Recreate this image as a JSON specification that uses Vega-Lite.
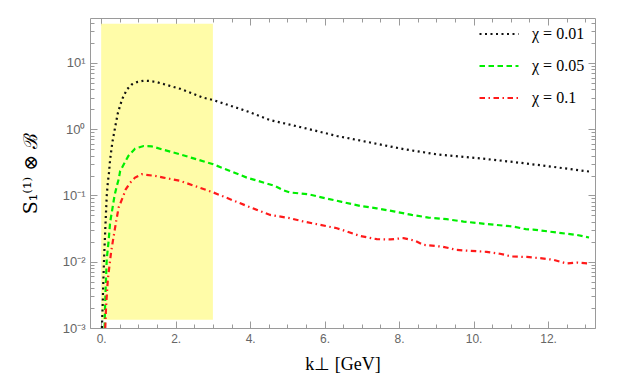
{
  "$schema": "https://vega.github.io/schema/vega-lite/v6.json",
  "width": 505,
  "height": 310,
  "autosize": "none",
  "padding": {"left": 90, "top": 18, "right": 28, "bottom": 57},
  "background": "white",
  "config": {
    "view": {"stroke": "#9a9a9a", "strokeWidth": 1},
    "axis": {"grid": false, "domain": false, "tickColor": "#9a9a9a", "labelColor": "#666666", "labelFont": "Liberation Sans", "labelFontSize": 12, "zindex": 1, "tickWidth": 1}
  },
  "datasets": {
    "band": [{"x0": 0, "x1": 3, "y0": 0.00133, "y1": 39}],
    "curves": [
      {"series": "χ = 0.01", "k": 0.02, "v": 0.001},
      {"series": "χ = 0.01", "k": 0.04, "v": 0.0022},
      {"series": "χ = 0.01", "k": 0.06, "v": 0.0055},
      {"series": "χ = 0.01", "k": 0.08, "v": 0.012},
      {"series": "χ = 0.01", "k": 0.11, "v": 0.031},
      {"series": "χ = 0.01", "k": 0.15, "v": 0.1},
      {"series": "χ = 0.01", "k": 0.18, "v": 0.16},
      {"series": "χ = 0.01", "k": 0.21, "v": 0.22},
      {"series": "χ = 0.01", "k": 0.24, "v": 0.35},
      {"series": "χ = 0.01", "k": 0.30, "v": 0.63},
      {"series": "χ = 0.01", "k": 0.38, "v": 1.11},
      {"series": "χ = 0.01", "k": 0.45, "v": 1.77},
      {"series": "χ = 0.01", "k": 0.56, "v": 2.81},
      {"series": "χ = 0.01", "k": 0.69, "v": 3.98},
      {"series": "χ = 0.01", "k": 0.82, "v": 4.73},
      {"series": "χ = 0.01", "k": 0.96, "v": 5.13},
      {"series": "χ = 0.01", "k": 1.15, "v": 5.4},
      {"series": "χ = 0.01", "k": 1.3, "v": 5.35},
      {"series": "χ = 0.01", "k": 1.49, "v": 5.13},
      {"series": "χ = 0.01", "k": 2.12, "v": 4.07},
      {"series": "χ = 0.01", "k": 2.75, "v": 2.98},
      {"series": "χ = 0.01", "k": 3.02, "v": 2.74},
      {"series": "χ = 0.01", "k": 3.91, "v": 1.87},
      {"series": "χ = 0.01", "k": 4.54, "v": 1.37},
      {"series": "χ = 0.01", "k": 5.43, "v": 1.05},
      {"series": "χ = 0.01", "k": 6.33, "v": 0.79},
      {"series": "χ = 0.01", "k": 7.22, "v": 0.63},
      {"series": "χ = 0.01", "k": 8.12, "v": 0.50},
      {"series": "χ = 0.01", "k": 9.01, "v": 0.417},
      {"series": "χ = 0.01", "k": 10.17, "v": 0.363},
      {"series": "χ = 0.01", "k": 11.07, "v": 0.32},
      {"series": "χ = 0.01", "k": 11.96, "v": 0.278},
      {"series": "χ = 0.01", "k": 12.99, "v": 0.234},
      {"series": "χ = 0.01", "k": 13.1, "v": 0.23},
      {"series": "χ = 0.05", "k": 0.09, "v": 0.001},
      {"series": "χ = 0.05", "k": 0.11, "v": 0.0027},
      {"series": "χ = 0.05", "k": 0.13, "v": 0.0055},
      {"series": "χ = 0.05", "k": 0.15, "v": 0.011},
      {"series": "χ = 0.05", "k": 0.2, "v": 0.0207},
      {"series": "χ = 0.05", "k": 0.24, "v": 0.039},
      {"series": "χ = 0.05", "k": 0.36, "v": 0.1},
      {"series": "χ = 0.05", "k": 0.42, "v": 0.139},
      {"series": "χ = 0.05", "k": 0.47, "v": 0.175},
      {"series": "χ = 0.05", "k": 0.51, "v": 0.234},
      {"series": "χ = 0.05", "k": 0.73, "v": 0.394},
      {"series": "χ = 0.05", "k": 0.91, "v": 0.508},
      {"series": "χ = 0.05", "k": 1.14, "v": 0.557},
      {"series": "χ = 0.05", "k": 1.36, "v": 0.55},
      {"series": "χ = 0.05", "k": 1.63, "v": 0.497},
      {"series": "χ = 0.05", "k": 2.12, "v": 0.417},
      {"series": "χ = 0.05", "k": 3.01, "v": 0.295},
      {"series": "χ = 0.05", "k": 3.91, "v": 0.186},
      {"series": "χ = 0.05", "k": 4.67, "v": 0.139},
      {"series": "χ = 0.05", "k": 4.89, "v": 0.12},
      {"series": "χ = 0.05", "k": 5.07, "v": 0.111},
      {"series": "χ = 0.05", "k": 5.57, "v": 0.104},
      {"series": "χ = 0.05", "k": 6.01, "v": 0.091},
      {"series": "χ = 0.05", "k": 6.46, "v": 0.080},
      {"series": "χ = 0.05", "k": 6.95, "v": 0.0695},
      {"series": "χ = 0.05", "k": 7.40, "v": 0.064},
      {"series": "χ = 0.05", "k": 7.89, "v": 0.057},
      {"series": "χ = 0.05", "k": 8.34, "v": 0.0508},
      {"series": "χ = 0.05", "k": 8.79, "v": 0.0464},
      {"series": "χ = 0.05", "k": 9.28, "v": 0.0438},
      {"series": "χ = 0.05", "k": 9.73, "v": 0.0404},
      {"series": "χ = 0.05", "k": 10.36, "v": 0.037},
      {"series": "χ = 0.05", "k": 11.07, "v": 0.034},
      {"series": "χ = 0.05", "k": 11.4, "v": 0.031},
      {"series": "χ = 0.05", "k": 11.6, "v": 0.0306},
      {"series": "χ = 0.05", "k": 12.23, "v": 0.0276},
      {"series": "χ = 0.05", "k": 12.77, "v": 0.0254},
      {"series": "χ = 0.05", "k": 13.1, "v": 0.0232},
      {"series": "χ = 0.1", "k": 0.11, "v": 0.001},
      {"series": "χ = 0.1", "k": 0.13, "v": 0.002},
      {"series": "χ = 0.1", "k": 0.18, "v": 0.0055},
      {"series": "χ = 0.1", "k": 0.27, "v": 0.0145},
      {"series": "χ = 0.1", "k": 0.40, "v": 0.040},
      {"series": "χ = 0.1", "k": 0.47, "v": 0.066},
      {"series": "χ = 0.1", "k": 0.6, "v": 0.10},
      {"series": "χ = 0.1", "k": 0.66, "v": 0.124},
      {"series": "χ = 0.1", "k": 0.78, "v": 0.156},
      {"series": "χ = 0.1", "k": 0.91, "v": 0.186},
      {"series": "χ = 0.1", "k": 1.09, "v": 0.209},
      {"series": "χ = 0.1", "k": 1.45, "v": 0.197},
      {"series": "χ = 0.1", "k": 1.67, "v": 0.186},
      {"series": "χ = 0.1", "k": 2.12, "v": 0.166},
      {"series": "χ = 0.1", "k": 3.01, "v": 0.111},
      {"series": "χ = 0.1", "k": 3.91, "v": 0.0695},
      {"series": "χ = 0.1", "k": 4.54, "v": 0.0508},
      {"series": "χ = 0.1", "k": 4.72, "v": 0.049},
      {"series": "χ = 0.1", "k": 5.07, "v": 0.0454},
      {"series": "χ = 0.1", "k": 5.43, "v": 0.0404},
      {"series": "χ = 0.1", "k": 5.88, "v": 0.036},
      {"series": "χ = 0.1", "k": 6.33, "v": 0.032},
      {"series": "χ = 0.1", "k": 6.60, "v": 0.0286},
      {"series": "χ = 0.1", "k": 6.95, "v": 0.0245},
      {"series": "χ = 0.1", "k": 7.40, "v": 0.0219},
      {"series": "χ = 0.1", "k": 7.76, "v": 0.0217},
      {"series": "χ = 0.1", "k": 8.12, "v": 0.0227},
      {"series": "χ = 0.1", "k": 8.43, "v": 0.0207},
      {"series": "χ = 0.1", "k": 8.65, "v": 0.018},
      {"series": "χ = 0.1", "k": 9.18, "v": 0.0168},
      {"series": "χ = 0.1", "k": 9.54, "v": 0.0151},
      {"series": "χ = 0.1", "k": 9.9, "v": 0.0146},
      {"series": "χ = 0.1", "k": 10.35, "v": 0.0141},
      {"series": "χ = 0.1", "k": 10.71, "v": 0.0132},
      {"series": "χ = 0.1", "k": 11.02, "v": 0.012},
      {"series": "χ = 0.1", "k": 11.43, "v": 0.0118},
      {"series": "χ = 0.1", "k": 11.79, "v": 0.0113},
      {"series": "χ = 0.1", "k": 12.14, "v": 0.0107},
      {"series": "χ = 0.1", "k": 12.5, "v": 0.0094},
      {"series": "χ = 0.1", "k": 12.77, "v": 0.0097},
      {"series": "χ = 0.1", "k": 13.1, "v": 0.0094}
    ]
  },
  "resolve": {"axis": {"x": "independent", "y": "independent"}},
  "layer": [
    {
      "data": {"name": "band"},
      "mark": {"type": "rect", "color": "#fffca8", "opacity": 1},
      "encoding": {
        "x": {"field": "x0", "type": "quantitative", "scale": {"domain": [-0.3, 13.26], "nice": false, "zero": false},
          "axis": {"orient": "bottom", "values": [0.5,1,1.5,2.5,3,3.5,4.5,5,5.5,6.5,7,7.5,8.5,9,9.5,10.5,11,11.5,12.5,13], "labels": false, "tickSize": -4, "title": null}},
        "x2": {"field": "x1"},
        "y": {"field": "y0", "type": "quantitative", "scale": {"type": "log", "domain": [0.001, 47.6], "nice": false},
          "axis": {"orient": "left", "values": [0.002,0.003,0.004,0.005,0.006,0.007,0.008,0.009,0.02,0.03,0.04,0.05,0.06,0.07,0.08,0.09,0.2,0.3,0.4,0.5,0.6,0.7,0.8,0.9,2,3,4,5,6,7,8,9,20,30,40], "labels": false, "tickSize": -4, "title": null}},
        "y2": {"field": "y1"}
      }
    },
    {
      "data": {"name": "band"},
      "mark": {"type": "rect", "opacity": 0},
      "encoding": {
        "x": {"field": "x0", "type": "quantitative",
          "axis": {"orient": "top", "values": [0,2,4,6,8,10,12], "labels": false, "tickSize": -7, "title": null}},
        "x2": {"field": "x1"},
        "y": {"field": "y0", "type": "quantitative",
          "axis": {"orient": "right", "values": [0.001,0.01,0.1,1,10], "labels": false, "tickSize": -7, "title": null}},
        "y2": {"field": "y1"}
      }
    },
    {
      "data": {"name": "band"},
      "mark": {"type": "rect", "opacity": 0},
      "encoding": {
        "x": {"field": "x0", "type": "quantitative",
          "axis": {"orient": "top", "values": [0.5,1,1.5,2.5,3,3.5,4.5,5,5.5,6.5,7,7.5,8.5,9,9.5,10.5,11,11.5,12.5,13], "labels": false, "tickSize": -4, "title": null}},
        "x2": {"field": "x1"},
        "y": {"field": "y0", "type": "quantitative",
          "axis": {"orient": "right", "values": [0.002,0.003,0.004,0.005,0.006,0.007,0.008,0.009,0.02,0.03,0.04,0.05,0.06,0.07,0.08,0.09,0.2,0.3,0.4,0.5,0.6,0.7,0.8,0.9,2,3,4,5,6,7,8,9,20,30,40], "labels": false, "tickSize": -4, "title": null}},
        "y2": {"field": "y1"}
      }
    },
    {
      "data": {"name": "curves"},
      "mark": {"type": "line", "strokeWidth": 2.2, "strokeCap": "butt", "clip": true},
      "encoding": {
        "x": {"field": "k", "type": "quantitative",
          "axis": {"orient": "bottom", "values": [0,2,4,6,8,10,12], "labelExpr": "datum.value + '.'", "tickSize": -7, "labelPadding": 12, "title": "k⊥ [GeV]", "titleFont": "Liberation Serif", "titleFontSize": 18, "titleFontWeight": "normal", "titleColor": "#000000", "titlePadding": 11}},
        "y": {"field": "v", "type": "quantitative",
          "axis": {"orient": "left", "values": [0.001,0.01,0.1,1,10], "labelExpr": "['10⁻³','10⁻²','10⁻¹','10⁰','10¹'][round(log(datum.value)/LN10)+3]", "labelFontSize": 13, "tickSize": -7, "labelPadding": 12, "title": "S₁⁽¹⁾ ⊗ ℬ", "titleFont": "DejaVu Serif", "titleFontSize": 19, "titleFontWeight": "normal", "titleColor": "#000000", "titleX": -60, "titleY": 155, "titleAlign": "center", "titleBaseline": "middle", "titleAngle": -90}},
        "color": {"field": "series", "type": "nominal",
          "scale": {"domain": ["χ = 0.01", "χ = 0.05", "χ = 0.1"], "range": ["#111111", "#00ee00", "#ff1a1a"]},
          "legend": {"title": null, "orient": "none", "legendX": 388, "legendY": -5, "symbolType": "stroke", "symbolSize": 1521, "symbolStrokeWidth": 2.2, "labelFont": "Liberation Serif", "labelFontSize": 16, "labelColor": "#000000", "labelOffset": 12, "rowPadding": 3}},
        "strokeDash": {"field": "series", "type": "nominal",
          "scale": {"domain": ["χ = 0.01", "χ = 0.05", "χ = 0.1"], "range": [[2, 3.5], [5.5, 3.5], [5.5, 3.5, 1.5, 3.5]]},
          "legend": {"title": null, "orient": "none", "legendX": 388, "legendY": -5, "symbolType": "stroke", "symbolSize": 1521, "symbolStrokeWidth": 2.2, "labelFont": "Liberation Serif", "labelFontSize": 16, "labelColor": "#000000", "labelOffset": 12, "rowPadding": 3}}
      }
    }
  ]
}
